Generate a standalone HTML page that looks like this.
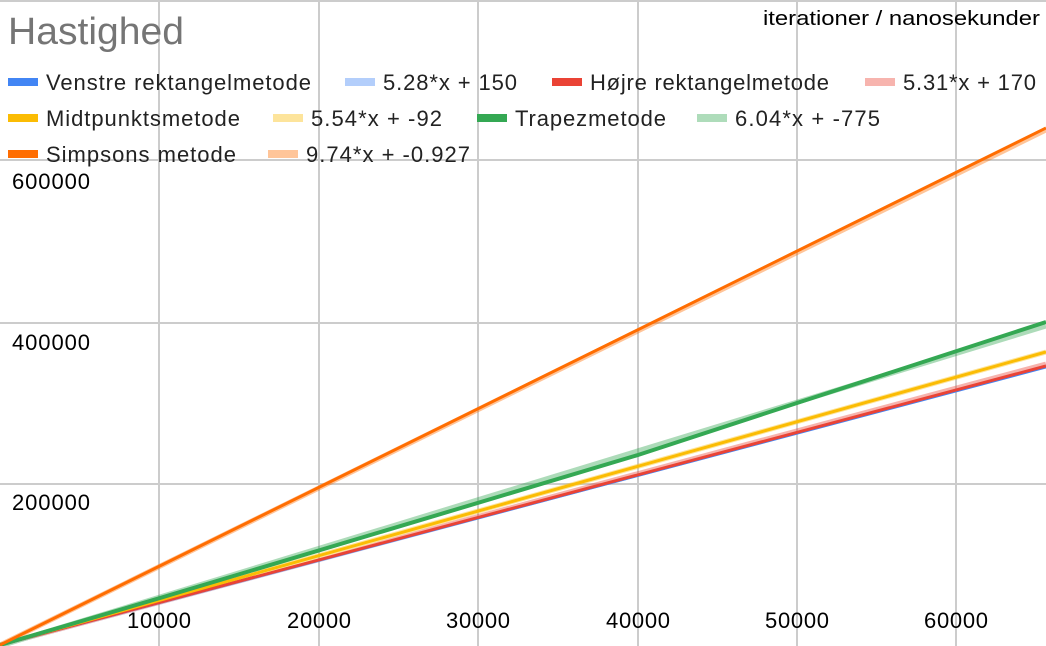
<!DOCTYPE html>
<html><head><meta charset="utf-8"><style>
html,body{margin:0;padding:0;background:#fff;}
svg{display:block;font-family:"Liberation Sans",Arial,sans-serif;}
</style></head><body>
<svg width="1046" height="646" viewBox="0 0 1046 646" xmlns="http://www.w3.org/2000/svg">
<rect width="1046" height="646" fill="#fff"/>
<g stroke="#ccc" stroke-width="2">
<line x1="0" y1="1" x2="1046" y2="1"/>
<line x1="0" y1="160" x2="1046" y2="160"/>
<line x1="0" y1="323" x2="1046" y2="323"/>
<line x1="0" y1="484" x2="1046" y2="484"/>
<line x1="159" y1="0" x2="159" y2="646"/>
<line x1="319" y1="0" x2="319" y2="646"/>
<line x1="478" y1="0" x2="478" y2="646"/>
<line x1="638" y1="0" x2="638" y2="646"/>
<line x1="797" y1="0" x2="797" y2="646"/>
<line x1="956" y1="0" x2="956" y2="646"/>
</g>
<g font-size="22" fill="#000" lengthAdjust="spacingAndGlyphs">
<text x="12" y="189" textLength="78">600000</text>
<text x="12" y="350" textLength="78">400000</text>
<text x="12" y="510" textLength="78">200000</text>
<text x="127" y="628" textLength="64">10000</text>
<text x="287" y="628" textLength="64">20000</text>
<text x="446" y="628" textLength="64">30000</text>
<text x="606" y="628" textLength="64">40000</text>
<text x="765" y="628" textLength="64">50000</text>
<text x="924" y="628" textLength="64">60000</text>
</g>
<g stroke-width="5" fill="none" opacity="0.4">
<line x1="0" y1="645" x2="1046" y2="365" stroke="#4285f4"/>
<line x1="0" y1="645" x2="1046" y2="364" stroke="#ea4335"/>
<line x1="0" y1="645" x2="1046" y2="352" stroke="#fbbc04"/>
<line x1="0" y1="646" x2="1046" y2="326" stroke="#34a853"/>
<line x1="0" y1="645" x2="1046" y2="130" stroke="#ff6d01"/>
</g>
<g stroke-width="3" fill="none">
<polyline points="0,645 1046,367" stroke="#4285f4"/>
<polyline points="0,645 1046,366" stroke="#ea4335"/>
<polyline points="0,645 1046,352" stroke="#fbbc04"/>
<polyline points="0,645 160,598 638,455 797,403 1046,322" stroke="#34a853" stroke-width="4"/>
<polyline points="0,645 1046,128" stroke="#ff6d01"/>
</g>
<text x="8" y="44" font-size="38" fill="#757575" textLength="176" lengthAdjust="spacingAndGlyphs">Hastighed</text>
<text x="763" y="25" font-size="20" fill="#000" textLength="277" lengthAdjust="spacingAndGlyphs">iterationer / nanosekunder</text>
<g font-size="22" fill="#222" lengthAdjust="spacingAndGlyphs">
<rect x="8" y="78" width="30" height="8" fill="#4285f4"/><text x="46" y="90" textLength="265">Venstre rektangelmetode</text>
<rect x="345" y="78" width="30" height="8" fill="#b3cefb"/><text x="383" y="90" textLength="134">5.28*x + 150</text>
<rect x="552" y="78" width="30" height="8" fill="#ea4335"/><text x="590" y="90" textLength="239">Højre rektangelmetode</text>
<rect x="865" y="78" width="30" height="8" fill="#f7b4ae"/><text x="903" y="90" textLength="133">5.31*x + 170</text>
<rect x="8" y="114" width="30" height="8" fill="#fbbc04"/><text x="46" y="126" textLength="194">Midtpunktsmetode</text>
<rect x="273" y="114" width="30" height="8" fill="#fde49b"/><text x="311" y="126" textLength="131">5.54*x + -92</text>
<rect x="477" y="114" width="30" height="8" fill="#34a853"/><text x="515" y="126" textLength="151">Trapezmetode</text>
<rect x="697" y="114" width="30" height="8" fill="#aedcba"/><text x="735" y="126" textLength="145">6.04*x + -775</text>
<rect x="8" y="150" width="30" height="8" fill="#ff6d01"/><text x="46" y="162" textLength="190">Simpsons metode</text>
<rect x="268" y="150" width="30" height="8" fill="#ffc599"/><text x="306" y="162" textLength="164">9.74*x + -0.927</text>
</g>
</svg>
</body></html>
